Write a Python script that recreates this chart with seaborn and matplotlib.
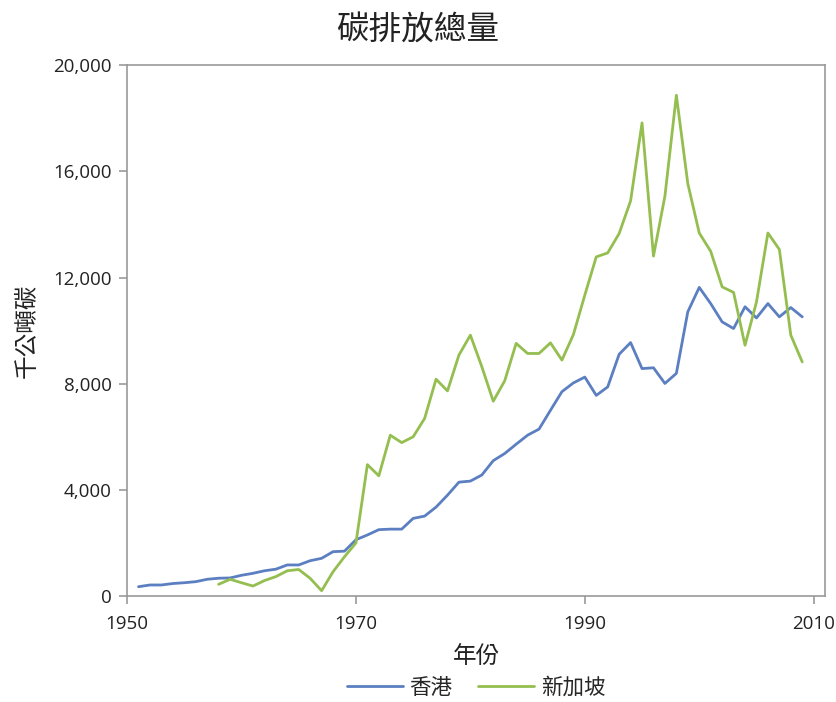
import matplotlib
matplotlib.use("Agg")
import matplotlib.pyplot as plt
import matplotlib.ticker as mticker
import numpy as np
import pandas as pd
import seaborn as sns

# 千公噸碳
anios_hk = list(range(1951, 2010))
hong_kong = [350, 415, 415, 470, 500, 540, 630, 670, 680, 780,
             855, 950, 1010, 1170, 1170, 1330, 1420, 1670, 1690, 2120,
             2300, 2500, 2520, 2520, 2925, 3010, 3350, 3800, 4290, 4330,
             4560, 5100, 5370, 5720, 6060, 6290, 7000, 7700, 8030, 8250,
             7560, 7880, 9110, 9550, 8570, 8600, 8010, 8390, 10710, 11630,
             11020, 10330, 10080, 10900, 10480, 11020, 10520, 10870, 10520]

anios_sg = list(range(1958, 2010))
singapur = [440, 630, 500, 375, 580, 730, 950, 1000, 665, 200,
            915, 1480, 2000, 4950, 4530, 6060, 5780, 6000, 6690, 8170,
            7730, 9080, 9830, 8640, 7340, 8110, 9520, 9140, 9140, 9540,
            8890, 9850, 11340, 12780, 12930, 13660, 14890, 17830, 12810, 15070,
            18870, 15540, 13680, 12990, 11650, 11440, 9450, 11080, 13680, 13060,
            9830, 8820]

df = pd.concat([
    pd.DataFrame({"年份": anios_hk, "值": hong_kong, "地區": "香港"}),
    pd.DataFrame({"年份": anios_sg, "值": singapur, "地區": "新加坡"}),
])

sns.set_style("white")
plt.rcParams["font.family"] = ["Open Sans", "Noto Sans CJK TC", "DejaVu Sans"]

fig = plt.figure(figsize=(8.36, 7.02), dpi=100)
ax = fig.add_axes([0.152, 0.151, 0.835, 0.756])

sns.lineplot(data=df, x="年份", y="值", hue="地區",
             palette={"香港": "#5B7FC1", "新加坡": "#94BE4F"},
             linewidth=2, ax=ax)

ax.set_xlim(1950, 2011)
ax.set_ylim(0, 20000)
ax.set_xticks([1950, 1970, 1990, 2010])
ax.set_yticks([0, 4000, 8000, 12000, 16000, 20000])
ax.yaxis.set_major_formatter(mticker.FuncFormatter(lambda v, p: f"{int(v):,}"))

for s in ax.spines.values():
    s.set_color("#999999")
    s.set_linewidth(1.2)
ax.tick_params(axis="both", direction="out", length=6, width=1.2, color="#999999",
               labelsize=13.5, labelcolor="#222222", left=True, bottom=True)
ax.tick_params(axis="x", pad=8)
ax.tick_params(axis="y", pad=5)

ax.set_xlabel("年份", fontsize=17, color="#222222", labelpad=8)
ax.set_ylabel("千公噸碳", fontsize=17, color="#222222", labelpad=10)
fig.suptitle("碳排放總量", fontsize=23.5, color="#222222", y=0.98, fontweight="light")

ax.legend(loc="upper center", bbox_to_anchor=(0.5, -0.118), ncol=2, frameon=False,
          fontsize=15.5, handlelength=2.6, handletextpad=0.3, columnspacing=1.2)

fig.savefig("out.png", dpi=100)
